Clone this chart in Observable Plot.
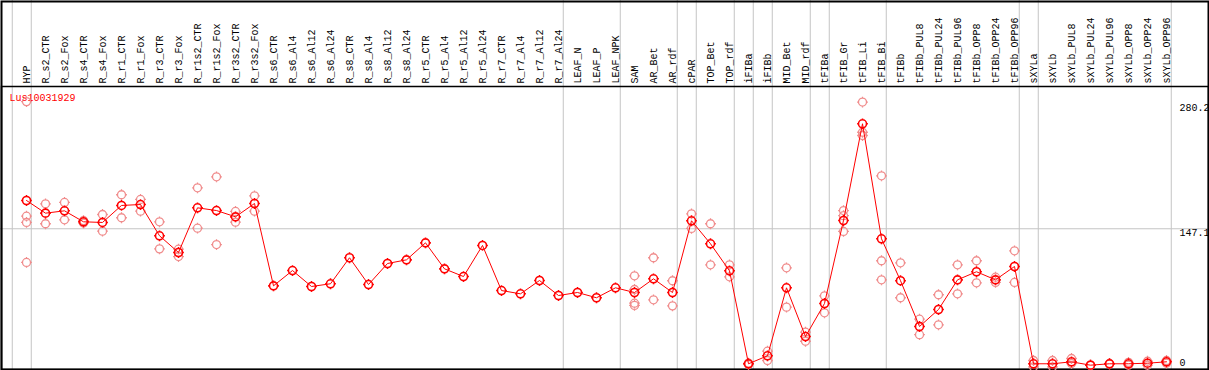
<!DOCTYPE html>
<html><head><meta charset="utf-8">
<script src="https://cdn.jsdelivr.net/npm/d3@7"></script>
<script src="https://cdn.jsdelivr.net/npm/@observablehq/plot@0.6"></script>
<style>html,body{margin:0;padding:0;background:#fff;} svg{display:block}</style>
</head><body><div id="chart"></div>
<script>
const title = "Lus10031929";
const categories = ["HYP","R_s2_CTR","R_s2_Fox","R_s4_CTR","R_s4_Fox","R_r1_CTR","R_r1_Fox","R_r3_CTR","R_r3_Fox","R_r1s2_CTR","R_r1s2_Fox","R_r3s2_CTR","R_r3s2_Fox","R_s6_CTR","R_s6_Al4","R_s6_Al12","R_s6_Al24","R_s8_CTR","R_s8_Al4","R_s8_Al12","R_s8_Al24","R_r5_CTR","R_r5_Al4","R_r5_Al12","R_r5_Al24","R_r7_CTR","R_r7_Al4","R_r7_Al12","R_r7_Al24","LEAF_N","LEAF_P","LEAF_NPK","SAM","AR_Bet","AR_rdf","cPAR","TOP_Bet","TOP_rdf","iFIBa","iFIBb","MID_Bet","MID_rdf","tFIBa","tFIB_Gr","tFIB_Li","tFIB_Bi","tFIBb","tFIBb_PUL8","tFIBb_PUL24","tFIBb_PUL96","tFIBb_OPP8","tFIBb_OPP24","tFIBb_OPP96","sXYLa","sXYLb","sXYLb_PUL8","sXYLb_PUL24","sXYLb_PUL96","sXYLb_OPP8","sXYLb_OPP24","sXYLb_OPP96"];
const groupSizes = [1, 28, 3, 3, 1, 2, 1, 1, 2, 1, 3, 7, 1, 7];
const meanValues = [177.2,163.7,166.2,154.5,153.8,171.9,172.9,139.6,121.8,169.4,166.5,159.8,174.0,86.3,102.6,85.6,88.5,116.2,87.7,110.1,114.0,132.1,104.4,96.2,129.3,81.3,77.8,92.0,76.0,79.2,73.6,84.2,79.2,93.8,79.2,155.6,131.1,102.3,3.3,11.8,84.2,32.3,67.5,155.9,258.9,136.4,91.8,43.0,61.1,92.7,101.3,92.7,106.9,3.3,3.3,5.4,1.8,3.3,3.3,3.9,5.4];
const replicateValues = [
  [282.5,160.5,153.8,111.2],[173.7,152.4],[175.1,156.6],[155.8,153.2],[162.3,144.5],
  [183.3,158.8],[178.3,165.8],[154.5,125.7],[125.3,117.5],[190.7,147.7],
  [202.4,130.3],[165.5,154.1],[182.2,165.8],
  [],[],[],[],[],[],[],[],[],[],[],[],[],[],[],[],[],[],[],
  [97.0,82.4,67.8,65.4],[116.2,71.4],[91.7,65.0],[163.0,147.4],[152.4,108.7],
  [108.7,95.9],[4.0,2.5],[16.7,6.8],[105.5,63.6],[36.9,27.3],[75.7,57.6],
  [166.5,161.0,144.2],[282.0,249.9,246.4],[203.5,113.0,92.7],[110.8,73.6],
  [50.8,34.3],[76.8,44.8],[108.7,77.8],[113.0,89.5],[95.5,89.9],[123.6,89.9],
  [6.8,0],[6.8,0],[8.9,3.6],[1.5,2.1],[3.0,3.6],[1.8,4.8],[6.0,1.8],[6.8,3.9]
];
const yTickValues = [280.2, 147.1, 0];

// group separators (index of last category in each group, plus the start)
const separators = [-1];
groupSizes.reduce((acc, n) => { separators.push(acc + n - 1); return acc + n; }, 0);

const repPoints = replicateValues.flatMap((vals, i) => vals.map(v => ({i, v})));
const meanPoints = meanValues.map((v, i) => ({i, v}));

const tickCircle = {
  draw(ctx, size) {
    const r = Math.sqrt(size / Math.PI), t = 1.4;
    ctx.moveTo(r, 0); ctx.arc(0, 0, r, 0, 2 * Math.PI);
    ctx.moveTo(0, -r); ctx.lineTo(0, -r - t);
    ctx.moveTo(0, r); ctx.lineTo(0, r + t);
    ctx.moveTo(-r, 0); ctx.lineTo(-r - t, 0);
    ctx.moveTo(r, 0); ctx.lineTo(r + t, 0);
  }
};

const plot = Plot.plot({
  width: 1209, height: 370,
  marginTop: 86, marginBottom: 0, marginLeft: 0, marginRight: 0,
  x: {type: "linear", domain: [0, categories.length - 1], range: [26, 1166], axis: null},
  y: {domain: [-2.8, 298.6], range: [369, 86], axis: null},
  style: {background: "white", fontFamily: "'Liberation Mono', 'DejaVu Sans Mono', monospace", overflow: "hidden"},
  marks: [
    Plot.ruleX(separators, {x: d => d, dx: 4.75, stroke: "#c4c4c4", strokeWidth: 1, insetTop: -86}),
    Plot.ruleY([yTickValues[1]], {stroke: "#c4c4c4", strokeWidth: 1}),
    Plot.frame({stroke: "black", strokeWidth: 2, insetTop: -85, insetLeft: 1, insetRight: 1, insetBottom: 1}),
    Plot.frame({stroke: "black", strokeWidth: 1.5, insetLeft: 1, insetRight: 1, insetBottom: 1}),
    Plot.text(categories, {x: (d, i) => i, text: d => d, frameAnchor: "top", rotate: -90,
      textAnchor: "start", lineAnchor: "middle", dy: -3, fontSize: 10, fill: "black"}),
    Plot.text(yTickValues.filter(d => d !== 0), {y: d => d, text: d => String(d), frameAnchor: "right",
      textAnchor: "start", lineAnchor: "top", dx: -30, fontSize: 10, fill: "black"}),
    Plot.text(yTickValues.filter(d => d === 0), {y: d => d, text: d => String(d), frameAnchor: "right",
      textAnchor: "start", lineAnchor: "bottom", dx: -30, dy: -1, fontSize: 10, fill: "black"}),
    Plot.text([title], {frameAnchor: "top-left", dx: 9, dy: 11, textAnchor: "start",
      lineAnchor: "middle", fill: "red", fontSize: 10}),
    Plot.dot(repPoints, {x: "i", y: "v", r: 4, symbol: tickCircle, stroke: "#f08c8c", strokeWidth: 1.3, fill: "none"}),
    Plot.line(meanPoints, {x: "i", y: "v", stroke: "red", strokeWidth: 1}),
    Plot.dot(meanPoints, {x: "i", y: "v", r: 4, symbol: tickCircle, stroke: "red", strokeWidth: 1.6, fill: "none"})
  ]
});
document.getElementById("chart").appendChild(plot);
</script>
</body></html>
